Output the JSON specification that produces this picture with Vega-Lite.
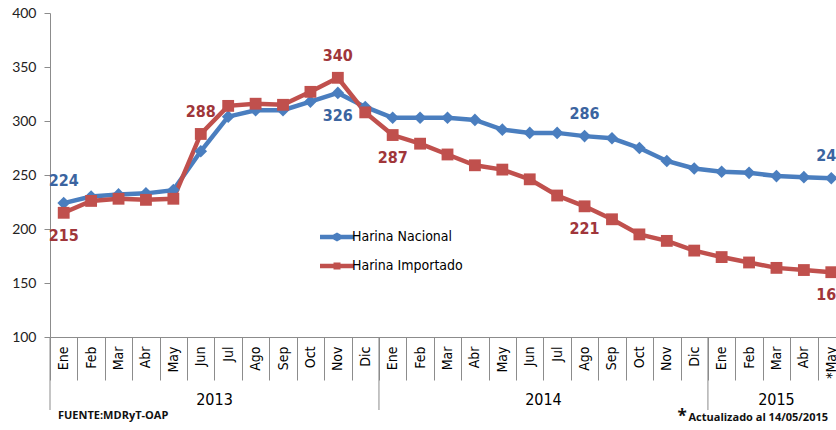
{
  "$schema": "https://vega.github.io/schema/vega-lite/v6.json",
  "autosize": {"type": "none"},
  "width": 786,
  "height": 324,
  "padding": {"left": 50, "top": 13, "right": 0, "bottom": 93},
  "background": "white",
  "config": {
    "view": {"stroke": null},
    "font": "DejaVu Sans Condensed, Roboto, sans-serif",
    "axis": {"domainColor": "#8c8c8c", "tickColor": "#8c8c8c", "grid": false, "title": null}
  },
  "datasets": {
    "precios": [
      {"mes": "Ene-2013", "serie": "Harina Nacional", "precio": 224},
      {"mes": "Feb-2013", "serie": "Harina Nacional", "precio": 230},
      {"mes": "Mar-2013", "serie": "Harina Nacional", "precio": 232},
      {"mes": "Abr-2013", "serie": "Harina Nacional", "precio": 233},
      {"mes": "May-2013", "serie": "Harina Nacional", "precio": 236},
      {"mes": "Jun-2013", "serie": "Harina Nacional", "precio": 272},
      {"mes": "Jul-2013", "serie": "Harina Nacional", "precio": 304},
      {"mes": "Ago-2013", "serie": "Harina Nacional", "precio": 310},
      {"mes": "Sep-2013", "serie": "Harina Nacional", "precio": 310},
      {"mes": "Oct-2013", "serie": "Harina Nacional", "precio": 318},
      {"mes": "Nov-2013", "serie": "Harina Nacional", "precio": 326},
      {"mes": "Dic-2013", "serie": "Harina Nacional", "precio": 313},
      {"mes": "Ene-2014", "serie": "Harina Nacional", "precio": 303},
      {"mes": "Feb-2014", "serie": "Harina Nacional", "precio": 303},
      {"mes": "Mar-2014", "serie": "Harina Nacional", "precio": 303},
      {"mes": "Abr-2014", "serie": "Harina Nacional", "precio": 301},
      {"mes": "May-2014", "serie": "Harina Nacional", "precio": 292},
      {"mes": "Jun-2014", "serie": "Harina Nacional", "precio": 289},
      {"mes": "Jul-2014", "serie": "Harina Nacional", "precio": 289},
      {"mes": "Ago-2014", "serie": "Harina Nacional", "precio": 286},
      {"mes": "Sep-2014", "serie": "Harina Nacional", "precio": 284},
      {"mes": "Oct-2014", "serie": "Harina Nacional", "precio": 275},
      {"mes": "Nov-2014", "serie": "Harina Nacional", "precio": 263},
      {"mes": "Dic-2014", "serie": "Harina Nacional", "precio": 256},
      {"mes": "Ene-2015", "serie": "Harina Nacional", "precio": 253},
      {"mes": "Feb-2015", "serie": "Harina Nacional", "precio": 252},
      {"mes": "Mar-2015", "serie": "Harina Nacional", "precio": 249},
      {"mes": "Abr-2015", "serie": "Harina Nacional", "precio": 248},
      {"mes": "*May-2015", "serie": "Harina Nacional", "precio": 247},
      {"mes": "Ene-2013", "serie": "Harina Importado", "precio": 215},
      {"mes": "Feb-2013", "serie": "Harina Importado", "precio": 226},
      {"mes": "Mar-2013", "serie": "Harina Importado", "precio": 228},
      {"mes": "Abr-2013", "serie": "Harina Importado", "precio": 227},
      {"mes": "May-2013", "serie": "Harina Importado", "precio": 228},
      {"mes": "Jun-2013", "serie": "Harina Importado", "precio": 288},
      {"mes": "Jul-2013", "serie": "Harina Importado", "precio": 314},
      {"mes": "Ago-2013", "serie": "Harina Importado", "precio": 316},
      {"mes": "Sep-2013", "serie": "Harina Importado", "precio": 315},
      {"mes": "Oct-2013", "serie": "Harina Importado", "precio": 327},
      {"mes": "Nov-2013", "serie": "Harina Importado", "precio": 340},
      {"mes": "Dic-2013", "serie": "Harina Importado", "precio": 308},
      {"mes": "Ene-2014", "serie": "Harina Importado", "precio": 287},
      {"mes": "Feb-2014", "serie": "Harina Importado", "precio": 279},
      {"mes": "Mar-2014", "serie": "Harina Importado", "precio": 269},
      {"mes": "Abr-2014", "serie": "Harina Importado", "precio": 259},
      {"mes": "May-2014", "serie": "Harina Importado", "precio": 255},
      {"mes": "Jun-2014", "serie": "Harina Importado", "precio": 246},
      {"mes": "Jul-2014", "serie": "Harina Importado", "precio": 231},
      {"mes": "Ago-2014", "serie": "Harina Importado", "precio": 221},
      {"mes": "Sep-2014", "serie": "Harina Importado", "precio": 209},
      {"mes": "Oct-2014", "serie": "Harina Importado", "precio": 195},
      {"mes": "Nov-2014", "serie": "Harina Importado", "precio": 189},
      {"mes": "Dic-2014", "serie": "Harina Importado", "precio": 180},
      {"mes": "Ene-2015", "serie": "Harina Importado", "precio": 174},
      {"mes": "Feb-2015", "serie": "Harina Importado", "precio": 169},
      {"mes": "Mar-2015", "serie": "Harina Importado", "precio": 164},
      {"mes": "Abr-2015", "serie": "Harina Importado", "precio": 162},
      {"mes": "*May-2015", "serie": "Harina Importado", "precio": 160}
    ],
    "anios": [
      {"anio": "2013", "inicio": "Ene-2013", "centro": "Jul-2013"},
      {"anio": "2014", "inicio": "Ene-2014", "centro": "Jul-2014"},
      {"anio": "2015", "inicio": "Ene-2015", "centro": "Mar-2015"}
    ],
    "notas": [
      {"texto": "FUENTE:MDRyT-OAP", "mes": "Ene-2013"}
    ],
    "notas2": [
      {"texto": "Actualizado al  14/05/2015", "mes": "Dic-2014"}
    ]
  },
  "layer": [
    {
      "data": {"name": "precios"},
      "mark": {"type": "line", "strokeWidth": 4.5},
      "encoding": {
        "x": {"field": "mes", "type": "ordinal", "sort": null,
          "scale": {"type": "band", "paddingInner": 0, "paddingOuter": 0, "range": [0, 795],
            "domain": ["Ene-2013","Feb-2013","Mar-2013","Abr-2013","May-2013","Jun-2013","Jul-2013","Ago-2013","Sep-2013","Oct-2013","Nov-2013","Dic-2013","Ene-2014","Feb-2014","Mar-2014","Abr-2014","May-2014","Jun-2014","Jul-2014","Ago-2014","Sep-2014","Oct-2014","Nov-2014","Dic-2014","Ene-2015","Feb-2015","Mar-2015","Abr-2015","*May-2015"]},
          "axis": {"labelExpr": "isString(datum.value) ? split(datum.value, '-')[0] : ''", "labelAngle": -90, "tickBand": "extent", "tickSize": 43, "labelFont": "DejaVu Sans Condensed, Roboto, sans-serif", "labelFontSize": 14, "labelColor": "#000", "labelPadding": -34, "domainColor": "#8c8c8c"}},
        "y": {"field": "precio", "type": "quantitative",
          "scale": {"domain": [100, 400], "nice": false, "zero": false},
          "axis": {"values": [100, 150, 200, 250, 300, 350, 400], "tickSize": 6, "labelFont": "Lato", "labelFontSize": 14, "labelColor": "#222", "labelPadding": 8}},
        "color": {"field": "serie", "type": "nominal",
          "scale": {"domain": ["Harina Nacional", "Harina Importado"], "range": ["#4A7EBF", "#C0504D"]},
          "legend": {"title": null, "orient": "none", "legendX": 277, "legendY": 214, "symbolSize": 400, "labelFont": "DejaVu Sans Condensed, Roboto, sans-serif", "labelFontSize": 14, "labelColor": "#000", "labelOffset": 5, "rowPadding": 12,
            "symbolType": "M-1.7,-0.22H-0.4L0,-0.45L0.4,-0.22H1.7V0.22H0.4L0,0.45L-0.4,0.22H-1.7Z",
            "encode": {"symbols": {"update": {
              "shape": {"signal": "datum.value === 'Harina Nacional' ? 'M-1.7,-0.22H-0.4L0,-0.45L0.4,-0.22H1.7V0.22H0.4L0,0.45L-0.4,0.22H-1.7Z' : 'M-1.7,-0.22H-0.35V-0.35H0.35V-0.22H1.7V0.22H0.35V0.35H-0.35V0.22H-1.7Z'"},
              "strokeWidth": {"value": 0},
              "fill": {"signal": "datum.value === 'Harina Nacional' ? '#4A7EBF' : '#C0504D'"},
              "opacity": {"value": 1}
            }}}}}
      }
    },
    {
      "data": {"name": "precios"},
      "transform": [{"filter": "datum.serie === 'Harina Nacional'"}],
      "mark": {"type": "point", "filled": true, "opacity": 1, "size": 160, "shape": "diamond", "color": "#4A7EBF"},
      "encoding": {
        "x": {"field": "mes", "type": "ordinal", "sort": null},
        "y": {"field": "precio", "type": "quantitative"}
      }
    },
    {
      "data": {"name": "precios"},
      "transform": [{"filter": "datum.serie === 'Harina Importado'"}],
      "mark": {"type": "point", "filled": true, "opacity": 1, "size": 140, "shape": "square", "color": "#C0504D"},
      "encoding": {
        "x": {"field": "mes", "type": "ordinal", "sort": null},
        "y": {"field": "precio", "type": "quantitative"}
      }
    },
    {
      "data": {"name": "precios"},
      "transform": [{"filter": "(datum.serie === 'Harina Nacional' && (datum.mes === 'Ene-2013' || datum.mes === 'Ago-2014' || datum.mes === '*May-2015')) || (datum.serie === 'Harina Importado' && (datum.mes === 'Jun-2013' || datum.mes === 'Nov-2013'))"}],
      "mark": {"type": "text", "dy": -22, "fontSize": 16, "fontWeight": "bold", "font": "DejaVu Sans Condensed, Roboto, sans-serif"},
      "encoding": {
        "x": {"field": "mes", "type": "ordinal", "sort": null},
        "y": {"field": "precio", "type": "quantitative"},
        "text": {"field": "precio"},
        "color": {"value": "#A0363A", "condition": {"test": "datum.serie === 'Harina Nacional'", "value": "#3B64A0"}}
      }
    },
    {
      "data": {"name": "precios"},
      "transform": [{"filter": "(datum.serie === 'Harina Nacional' && datum.mes === 'Nov-2013') || (datum.serie === 'Harina Importado' && (datum.mes === 'Ene-2013' || datum.mes === 'Ene-2014' || datum.mes === 'Ago-2014' || datum.mes === '*May-2015'))"}],
      "mark": {"type": "text", "dy": 23, "fontSize": 16, "fontWeight": "bold", "font": "DejaVu Sans Condensed, Roboto, sans-serif"},
      "encoding": {
        "x": {"field": "mes", "type": "ordinal", "sort": null},
        "y": {"field": "precio", "type": "quantitative"},
        "text": {"field": "precio"},
        "color": {"value": "#A0363A", "condition": {"test": "datum.serie === 'Harina Nacional'", "value": "#3B64A0"}}
      }
    },
    {
      "data": {"name": "anios"},
      "mark": {"type": "rule", "color": "#8c8c8c", "strokeWidth": 1, "y2Offset": 73},
      "encoding": {
        "x": {"field": "inicio", "type": "ordinal", "sort": null, "bandPosition": 0},
        "y": {"datum": 100},
        "y2": {"datum": 100}
      }
    },
    {
      "data": {"name": "anios"},
      "transform": [{"filter": "datum.anio !== '2015'"}],
      "mark": {"type": "text", "dy": 63, "fontSize": 16, "font": "DejaVu Sans Condensed, Roboto, sans-serif", "color": "#000"},
      "encoding": {
        "x": {"field": "centro", "type": "ordinal", "sort": null, "bandPosition": 0},
        "y": {"datum": 100},
        "text": {"field": "anio"}
      }
    },
    {
      "data": {"name": "anios"},
      "transform": [{"filter": "datum.anio === '2015'"}],
      "mark": {"type": "text", "dy": 63, "fontSize": 16, "font": "DejaVu Sans Condensed, Roboto, sans-serif", "color": "#000"},
      "encoding": {
        "x": {"field": "centro", "type": "ordinal", "sort": null},
        "y": {"datum": 100},
        "text": {"field": "anio"}
      }
    },
    {
      "data": {"name": "notas"},
      "mark": {"type": "text", "dy": 79, "dx": 8, "align": "left", "fontSize": 11, "fontWeight": "bold", "font": "Open Sans", "color": "#111"},
      "encoding": {
        "x": {"field": "mes", "type": "ordinal", "sort": null, "bandPosition": 0},
        "y": {"datum": 100},
        "text": {"field": "texto"}
      }
    },
    {
      "data": {"name": "notas2"},
      "mark": {"type": "text", "dy": 80, "dx": -3, "align": "left", "fontSize": 17, "fontWeight": "bold", "font": "Open Sans", "color": "#111"},
      "encoding": {
        "x": {"field": "mes", "type": "ordinal", "sort": null, "bandPosition": 0},
        "y": {"datum": 100},
        "text": {"value": "*"}
      }
    },
    {
      "data": {"name": "notas2"},
      "mark": {"type": "text", "dy": 81, "dx": 8, "align": "left", "fontSize": 11, "fontWeight": "bold", "font": "Open Sans", "color": "#111"},
      "encoding": {
        "x": {"field": "mes", "type": "ordinal", "sort": null, "bandPosition": 0},
        "y": {"datum": 100},
        "text": {"field": "texto"}
      }
    }
  ]
}
